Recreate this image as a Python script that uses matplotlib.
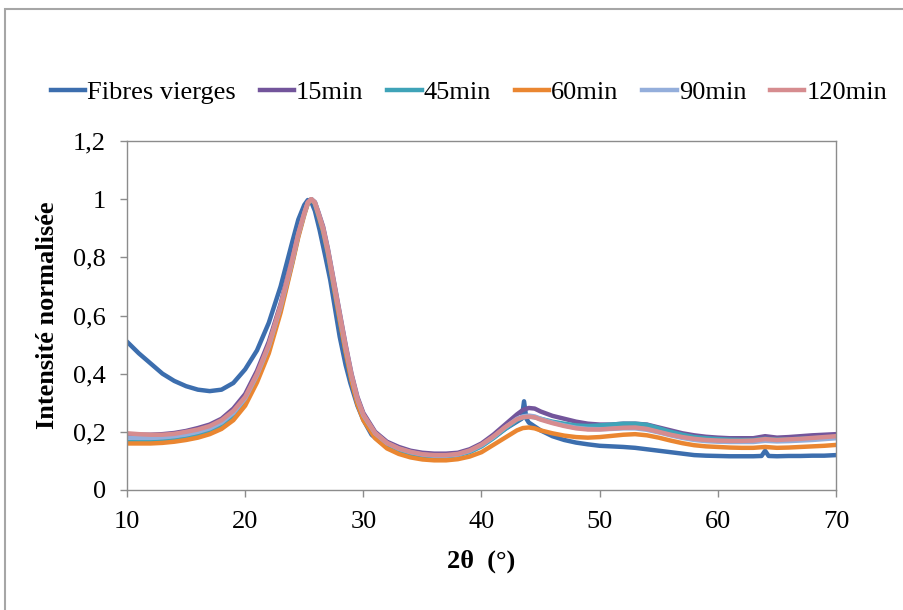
import matplotlib
matplotlib.use("Agg")
import matplotlib.pyplot as plt
from matplotlib.patches import Rectangle

plt.rcParams['font.family'] = ['Liberation Serif', 'DejaVu Serif']

# ---- data ----
x_fibres = [10, 11, 12, 13, 14, 15, 16, 17, 18, 19, 20, 21, 22, 23, 24,
            24.5, 25, 25.3, 25.6, 25.9, 26.3, 26.8, 27.2, 27.6, 28, 28.5, 28.9, 29.5, 30, 30.7, 31.4, 32.2, 33.1,
            34, 35, 36, 37, 38, 39, 40, 41, 42, 43,
            43.4, 43.6, 43.8,
            44, 45, 46, 47, 48, 49, 50, 51, 52, 53, 54, 55, 56, 57, 58, 59, 60, 61, 62, 63,
            63.7, 64, 64.3,
            65, 66, 67, 68, 69, 70]
y_fibres = [0.51, 0.47, 0.435, 0.40, 0.375, 0.357, 0.345, 0.340, 0.345, 0.368, 0.415, 0.48, 0.575, 0.70, 0.855,
            0.93, 0.98, 0.997, 0.99, 0.96, 0.894, 0.80, 0.722, 0.625, 0.527, 0.43, 0.368, 0.29, 0.241, 0.19, 0.166, 0.145, 0.132,
            0.123, 0.117, 0.115, 0.117, 0.122, 0.135, 0.155, 0.18, 0.21, 0.235,
            0.245, 0.305, 0.245,
            0.232, 0.205, 0.185, 0.172, 0.163, 0.157, 0.152, 0.15, 0.148, 0.145, 0.14, 0.135, 0.13, 0.125, 0.12, 0.118, 0.117, 0.116, 0.116, 0.116,
            0.117, 0.135, 0.117,
            0.116, 0.117, 0.117, 0.118, 0.118, 0.12]

x_treated = [10, 11, 12, 13, 14, 15, 16, 17, 18, 19, 20, 21, 22, 23, 24,
             24.5, 25, 25.3, 25.6, 25.9, 26.2, 26.6, 27, 27.5, 28, 28.5, 29, 29.5, 30,
             31, 32, 33, 34, 35, 36, 37, 38, 39, 40, 41, 42, 43,
             43.5, 44, 44.5,
             45, 46, 47, 48, 49, 50, 51, 52, 53, 54, 55, 56, 57, 58, 59, 60, 61, 62, 63, 64, 65, 66, 67, 68, 69, 70]

y_15min = [0.19, 0.19, 0.19, 0.192, 0.196, 0.203, 0.213, 0.225, 0.245, 0.28, 0.33, 0.41, 0.51, 0.64, 0.80,
           0.885, 0.955, 0.99, 1.0, 0.99, 0.955, 0.905, 0.83, 0.72, 0.61, 0.50, 0.40, 0.32, 0.265,
           0.2, 0.166, 0.148, 0.135, 0.128, 0.125, 0.125, 0.128, 0.14, 0.16, 0.19, 0.225, 0.26,
           0.275, 0.282, 0.28,
           0.27, 0.255, 0.245, 0.235, 0.228, 0.225, 0.225, 0.228, 0.228, 0.225, 0.215, 0.205, 0.195, 0.188, 0.183, 0.18,
           0.178, 0.178, 0.178, 0.185, 0.18, 0.182, 0.185, 0.188, 0.19, 0.192]

y_45min = [0.165, 0.165, 0.166, 0.168, 0.172, 0.178, 0.187, 0.2, 0.22, 0.252, 0.30, 0.38, 0.48, 0.62, 0.785,
           0.875, 0.95, 0.985, 1.0, 0.985, 0.945, 0.89, 0.815, 0.70, 0.59, 0.48, 0.385, 0.305, 0.25,
           0.19, 0.157, 0.138, 0.126, 0.118, 0.115, 0.115, 0.12, 0.13, 0.15, 0.178, 0.21, 0.24,
           0.25, 0.253, 0.25,
           0.245, 0.235, 0.228, 0.222, 0.22, 0.222, 0.225, 0.228, 0.228, 0.224, 0.212, 0.2, 0.19, 0.182, 0.178, 0.175,
           0.173, 0.172, 0.172, 0.176, 0.173, 0.174, 0.176, 0.178, 0.18, 0.183]

y_60min = [0.16, 0.16, 0.16, 0.162, 0.166, 0.172, 0.18, 0.192, 0.21, 0.24, 0.29, 0.37, 0.47, 0.61, 0.78,
           0.87, 0.945, 0.985, 1.0, 0.985, 0.945, 0.89, 0.815, 0.70, 0.585, 0.475, 0.375, 0.295, 0.24,
           0.178, 0.143, 0.124, 0.112, 0.105, 0.102, 0.102, 0.106, 0.115, 0.13, 0.155, 0.18, 0.205,
           0.213, 0.215, 0.212,
           0.205, 0.195, 0.187, 0.182, 0.18, 0.182, 0.186, 0.19, 0.192, 0.188, 0.18, 0.17, 0.161, 0.154, 0.15, 0.148,
           0.146, 0.145, 0.145, 0.148, 0.145, 0.146, 0.148, 0.15, 0.152, 0.155]

y_90min = [0.18, 0.179, 0.179, 0.181, 0.185, 0.191, 0.2, 0.212, 0.232, 0.265, 0.315, 0.395, 0.495, 0.63, 0.79,
           0.88, 0.95, 0.988, 1.0, 0.988, 0.95, 0.897, 0.822, 0.71, 0.6, 0.49, 0.392, 0.312, 0.257,
           0.195, 0.161, 0.142, 0.13, 0.122, 0.118, 0.118, 0.122, 0.134, 0.154, 0.182, 0.215, 0.245,
           0.253, 0.256, 0.253,
           0.245, 0.232, 0.222, 0.214, 0.21, 0.209, 0.21, 0.212, 0.212, 0.207, 0.198, 0.188, 0.179, 0.172, 0.168, 0.166,
           0.165, 0.165, 0.165, 0.169, 0.167, 0.168, 0.17, 0.172, 0.175, 0.178]

y_120min = [0.195, 0.192, 0.19, 0.19, 0.193, 0.2, 0.208, 0.22, 0.24, 0.272, 0.32, 0.40, 0.50, 0.635, 0.795,
            0.882, 0.952, 0.989, 1.0, 0.989, 0.952, 0.9, 0.825, 0.715, 0.605, 0.495, 0.395, 0.315, 0.26,
            0.196, 0.162, 0.143, 0.131, 0.123, 0.12, 0.12, 0.124, 0.136, 0.156, 0.184, 0.216, 0.243,
            0.25, 0.252, 0.25,
            0.242, 0.23, 0.22, 0.212, 0.208, 0.208, 0.211, 0.214, 0.215, 0.21, 0.2, 0.19, 0.182, 0.176, 0.172, 0.17,
            0.169, 0.169, 0.17, 0.175, 0.172, 0.174, 0.176, 0.179, 0.182, 0.185]

series_labels = ['Fibres vierges', '15min', '45min', '60min', '90min', '120min']
series_colors = ['#3C6EAE', '#73559B', '#3FA3B8', '#EA8631', '#94AEDB', '#D68C8F']

y_ticks = [0, 0.2, 0.4, 0.6, 0.8, 1.0, 1.2]
y_tick_labels = ['0', '0,2', '0,4', '0,6', '0,8', '1', '1,2']
x_ticks = [10, 20, 30, 40, 50, 60, 70]

FS = 19

# ---- figure ----
fig = plt.figure(figsize=(9.04, 6.10), dpi=100)
ax = fig.add_axes([127 / 904, 1 - 490 / 610, (836 - 127) / 904, (490 - 141) / 610])

xs = [x_fibres] + [x_treated] * 5
ys = [y_fibres, y_15min, y_45min, y_60min, y_90min, y_120min]
for xv, yv, lab, col in zip(xs, ys, series_labels, series_colors):
    ax.plot(xv, yv, color=col, lw=3.2, label=lab, solid_joinstyle='round')

ax.set_xlim(10, 70)
ax.set_ylim(0, 1.2)
ax.set_xticks(x_ticks)
ax.set_yticks(y_ticks)
ax.set_yticklabels(y_tick_labels)

for s in ax.spines.values():
    s.set_color('#8C8C8C')
    s.set_linewidth(1.0)
ax.tick_params(axis='both', direction='out', length=5, width=1.0, color='#8C8C8C',
               labelsize=FS, labelcolor='black')
ax.tick_params(axis='y', pad=10)
ax.tick_params(axis='x', pad=10)

ax.set_xlabel('2θ  (°)', fontsize=FS, fontweight='bold', labelpad=12)
ax.set_ylabel('Intensité normalisée', fontsize=FS, fontweight='bold', labelpad=10)

leg = fig.legend(loc='center', bbox_to_anchor=(469 / 904, 1 - 92 / 610), ncol=6, frameon=False,
                 fontsize=FS, handlelength=1.3, handletextpad=0.08, columnspacing=0.9)
for h in leg.get_lines():
    h.set_linewidth(3.2)

# outer chart border (cropped)
fig.patches.append(Rectangle((5 / 904, -0.1), 1.2, 1 - 9 / 610 + 0.1, transform=fig.transFigure,
                             fill=False, edgecolor='#A6A6A6', lw=1.5))

fig.savefig('out.png', dpi=100)
